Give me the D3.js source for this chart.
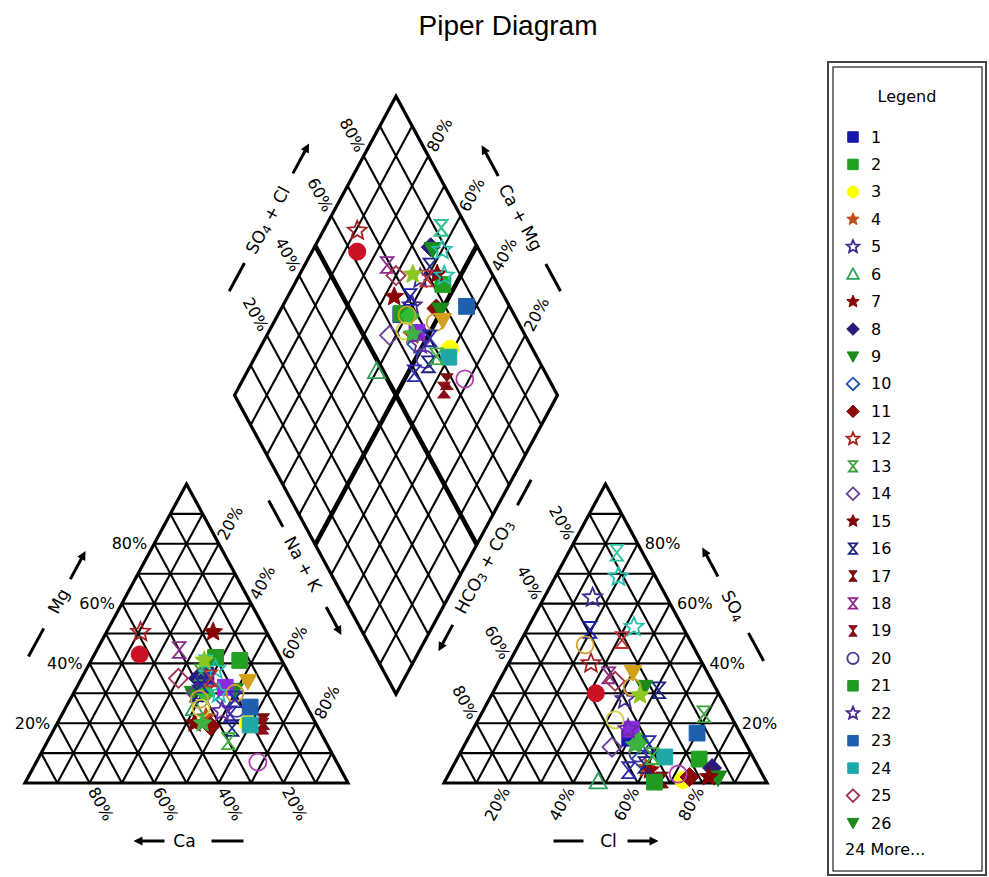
<!DOCTYPE html>
<html>
<head>
<meta charset="utf-8">
<script src="https://cdn.jsdelivr.net/npm/d3@7"></script>
<style>
  html, body { margin: 0; padding: 0; background: #fff; }
  svg { display: block; }
  text { font-family: "DejaVu Sans", sans-serif; fill: #000; }
</style>
</head>
<body>
<svg id="chart" width="989" height="877"></svg>
<script>
// ---- sample data (milliequivalent percentages) ----
const sampleIds = [1,2,3,4,5,6,7,8,9,10,11,12,13,14,15,16,17,18,19,20,21,22,23,24,25,26,
                   27,28,29,30,31,32,33,34,35,36,37,38,39,40,41,42,43,44,45,46];
const caPct  = [26,13,21,33,32,35,16.5,29,33,24,33,39,27,32,37.5,31,16,30,17,22,20,28,17.6,20.6,35,19.5,
                43,14,22,29,24,22,25,29,32,20,33,24.4,25,24,35,25,26.7,27,21,30];
const mgPct  = [36,41,20,22,30,25,50.5,35,30,28,19,50.5,37,30,20,30,20.5,44.5,19,25,42,32,25.4,19.4,35,31,
                43,34,32,30,40,38,30,33,28,30,25,7,35,41,20,23,18.4,24,28,14];
const clPct  = [50,75,73.5,60,15,47.5,61.6,80.5,84,57,75,25.5,69,46,81,51,67,33,65,55,65,42,70,64,36,46,
                32,40,49,53.5,15,19.5,32.7,19.6,20.6,42.2,42.4,71,31.2,46,52.7,55,59.2,48,57,60];
const so4Pct = [15,8,1,5,62,0.5,4.3,5,1.7,8,2,40,23,12,2,31,1,36,0.7,10,0.3,28,16.7,8.7,34,32,
                30,37,18,14,77,69,52.2,51.2,46.2,32.1,21.1,3,47.8,29.4,12.7,4.3,6,18,13,9];

const tickValues = [20, 40, 60, 80];
const legendCount = 26;
const moreLabel = "24 More...";

// ---- marker styles, one per sample ----
const markerShape = ["square","square","circle","star","star","triangle","star","diamond","triangleDown","diamond",
  "diamond","star","hourglass","diamond","star","hourglass","hourglass","hourglass","hourglass","circle",
  "square","star","square","square","diamond","triangleDown",
  "circle","triangleDown","square","diamond","hourglass","star","star","hourglass","circle","circle",
  "circle","circle","hourglass","star","star","hourglass","hourglass","star","hourglass","hourglass"];
const markerColor = ["#1818b0","#22a022","#ffff00","#c0501a","#3b2a8f","#2e9e5a","#8b0000","#2a1a7a","#1a8a1a","#2050b0",
  "#8b0a0a","#a52020","#3aa03a","#6a3d9a","#800000","#1a237e","#7a0f0f","#8b2a8b","#8b0a1a","#4a3a9a",
  "#229a22","#4a2a8a","#1f5fb0","#20a8a8","#a03050","#1a8a1a",
  "#cc1025","#d4a017","#8a2be2","#33bb33","#2ec4a0","#22c0b0","#22c0b0","#2020b0","#d0a030","#d0a030",
  "#d0d040","#b040b0","#c03030","#8cc820","#40b040","#2a2ab0","#1a237e","#6a2aa0","#2a2ab0","#40b040"];
const markerFilled = [1,1,1,1,0,0,1,1,1,0, 1,0,0,0,1,0,1,0,1,0, 1,0,1,1,0,1,
  1,1,1,1,0,0,0,0,0,0, 0,0,0,1,1,0,0,0,0,0];

// ---- layout ----
const svg = d3.select("#chart");
const W = 323, H = 299, base = 783;
const leftX0 = 25, rightX0 = 444;
const gap = rightX0 - (leftX0 + W);

const xL = d3.scaleLinear().domain([0, 1]).range([leftX0, leftX0 + W]);
const xR = d3.scaleLinear().domain([0, 1]).range([rightX0, rightX0 + W]);
const yT = d3.scaleLinear().domain([0, 1]).range([base, base - H]);
const Bx = leftX0 + W + gap / 2;
const By = base - H * (gap / 2) / (W / 2);
const xD = d3.scaleLinear().domain([-1, 1]).range([Bx - W / 2, Bx + W / 2]);
const yD = d3.scaleLinear().domain([0, 2]).range([By, By - 2 * H]);

// cation triangle: Ca bottom-left, Na+K bottom-right, Mg top
const ptL = (na, mg) => [xL(na + mg / 2), yT(mg)];
// anion triangle: HCO3 bottom-left, Cl bottom-right, SO4 top
const ptR = (cl, so4) => [xR(cl + so4 / 2), yT(so4)];
// diamond: c = Ca+Mg, s = SO4+Cl
const ptD = (c, s) => [xD(s - c), yD(c + s)];

const angRad = Math.atan2(H, W / 2);
const ang = angRad * 180 / Math.PI;
const cs = Math.cos(angRad), sn = Math.sin(angRad);
const uUR = [cs, -sn], uDR = [cs, sn], uUL = [-cs, -sn], uDL = [-cs, sn];

const line = d3.line();
const gGrid = svg.append("g").attr("fill", "none").attr("stroke", "#000").attr("stroke-linecap", "butt");
function seg(a, b, w) {
  gGrid.append("path").attr("d", line([a, b])).attr("stroke-width", w);
}
function poly(pts, w) {
  gGrid.append("path").attr("d", line(pts) + "Z").attr("stroke-width", w).attr("stroke-linejoin", "miter");
}

const steps = d3.range(1, 10).map(i => i / 10);
const gridW = 2.1, edgeW = 3.2, heavyW = 4.6;

// cation triangle grid
steps.forEach(v => {
  seg(ptL(0, v), ptL(1 - v, v), gridW);       // Mg
  seg(ptL(v, 0), ptL(v, 1 - v), gridW);       // Na+K
  seg(ptL(1 - v, 0), ptL(0, 1 - v), gridW);   // Ca
});
poly([ptL(0, 0), ptL(1, 0), ptL(0, 1)], edgeW);

// anion triangle grid
steps.forEach(v => {
  seg(ptR(0, v), ptR(1 - v, v), gridW);       // SO4
  seg(ptR(v, 0), ptR(v, 1 - v), gridW);       // Cl
  seg(ptR(1 - v, 0), ptR(0, 1 - v), gridW);   // HCO3
});
poly([ptR(0, 0), ptR(1, 0), ptR(0, 1)], edgeW);

// diamond grid
steps.forEach(v => {
  const w = v === 0.5 ? heavyW : gridW;
  seg(ptD(v, 0), ptD(v, 1), w);
  seg(ptD(0, v), ptD(1, v), w);
});
poly([ptD(0, 0), ptD(1, 0), ptD(1, 1), ptD(0, 1)], edgeW);

// ---- percentage tick labels ----
const gTicks = svg.append("g").style("font-size", "16px");
function tick(p, u, off, rot, anchor, txt) {
  const x = p[0] + u[0] * off, y = p[1] + u[1] * off;
  gTicks.append("text")
    .attr("transform", `translate(${x},${y}) rotate(${rot})`)
    .attr("text-anchor", anchor)
    .attr("dominant-baseline", "central")
    .text(txt);
}
tickValues.forEach(t => {
  const v = t / 100, s = t + "%";
  tick(ptL(0, v), [-1, 0], 7, 0, "end", s);           // Mg
  tick(ptL(v, 1 - v), uUR, 6, -ang, "start", s);      // Na+K
  tick(ptL(1 - v, 0), uDR, 6, ang, "start", s);       // Ca
  tick(ptR(1 - v, v), [1, 0], 7, 0, "start", s);      // SO4
  tick(ptR(v, 0), uDL, 6, -ang, "end", s);            // Cl
  tick(ptR(0, 1 - v), uUL, 6, ang, "end", s);         // HCO3+CO3
  tick(ptD(1, v), uUL, 6, ang, "end", s);             // SO4+Cl
  tick(ptD(v, 1), uUR, 6, -ang, "start", s);          // Ca+Mg
});

// ---- axis titles with dash and arrow ----
const gAxis = svg.append("g").style("font-size", "17px");
function axisTitle(mid, e, nrm, off, textAt, rot, parts, dash, arrow) {
  const at = a => [mid[0] + e[0] * a + nrm[0] * off, mid[1] + e[1] * a + nrm[1] * off];
  const p = at(textAt);
  const t = gAxis.append("text")
    .attr("transform", `translate(${p[0]},${p[1]}) rotate(${rot})`)
    .attr("text-anchor", "middle")
    .attr("dominant-baseline", "central");
  let prevSub = false;
  parts.forEach(([txt, sub]) => {
    const ts = t.append("tspan").text(txt);
    if (sub) ts.style("font-size", "12px").attr("dy", 4);
    else if (prevSub) ts.attr("dy", -4);
    prevSub = !!sub;
  });
  gAxis.append("path").attr("d", line([at(dash[0]), at(dash[1])]))
    .attr("stroke", "#000").attr("stroke-width", 3).attr("fill", "none");
  const head = 9, half = 4.5;
  const tip = at(arrow[1]), back = at(arrow[1] - head);
  gAxis.append("path").attr("d", line([at(arrow[0]), at(arrow[1] - head + 1)]))
    .attr("stroke", "#000").attr("stroke-width", 3).attr("fill", "none");
  const px = -e[1], py = e[0];
  gAxis.append("path")
    .attr("d", line([tip, [back[0] + px * half, back[1] + py * half], [back[0] - px * half, back[1] - py * half]]) + "Z")
    .attr("fill", "#000");
}
axisTitle(ptL(0, 0.5), uUR, [-sn, -cs], 57, 6, -ang, [["Mg"]], [-57, -25], [31, 63]);
axisTitle(ptL(0.5, 0), [-1, 0], [0, 1], 58, 2, 0, [["Ca"]], [-57, -25], [22, 53]);
axisTitle(ptD(0.5, 0), uDR, [-sn, cs], 20, 11, ang, [["Na + K"]], [-61, -31], [60, 92]);
axisTitle(ptD(0, 0.5), uDL, [sn, cs], 17, 16, -ang,
  [["HCO"], ["3", true], [" + CO"], ["3", true]], [-83, -54], [82, 112]);
axisTitle(ptD(1, 0.5), uUR, [-sn, -cs], 54, 0, -ang, [["SO"], ["4", true], [" + Cl"]], [-81, -49], [53, 87]);
axisTitle(ptD(0.5, 1), uUL, [sn, -cs], 52, 4, ang, [["Ca + Mg"]], [-80, -49], [51, 86]);
axisTitle(ptR(0.5, 0.5), uUL, [sn, -cs], 55, 2, ang, [["SO"], ["4", true]], [-61, -29], [35, 68]);
axisTitle(ptR(0.5, 0), [1, 0], [0, 1], 58, 3, 0, [["Cl"]], [-52, -22], [22, 53]);

// ---- marker symbol types ----
const symbolTypes = {
  square: { draw(ctx, size) { const r = Math.sqrt(size) / 2; ctx.rect(-r, -r, 2 * r, 2 * r); } },
  circle: { draw(ctx, size) { const r = Math.sqrt(size) / 2 * 1.08; ctx.moveTo(r, 0); ctx.arc(0, 0, r, 0, 2 * Math.PI); } },
  diamond: { draw(ctx, size) { const r = Math.sqrt(size) / 2 * 1.2;
    ctx.moveTo(0, -r); ctx.lineTo(r, 0); ctx.lineTo(0, r); ctx.lineTo(-r, 0); ctx.closePath(); } },
  triangle: { draw(ctx, size) { const r = Math.sqrt(size) / 2 * 1.1;
    ctx.moveTo(0, -r); ctx.lineTo(r, r * 0.8); ctx.lineTo(-r, r * 0.8); ctx.closePath(); } },
  triangleDown: { draw(ctx, size) { const r = Math.sqrt(size) / 2 * 1.1;
    ctx.moveTo(-r, -r * 0.8); ctx.lineTo(r, -r * 0.8); ctx.lineTo(0, r); ctx.closePath(); } },
  star: { draw(ctx, size) { const R = Math.sqrt(size) / 2 * 1.25, ri = R * 0.45;
    for (let i = 0; i < 10; i++) {
      const a = -Math.PI / 2 + i * Math.PI / 5, rr = i % 2 ? ri : R;
      const x = Math.cos(a) * rr, y = Math.sin(a) * rr;
      i ? ctx.lineTo(x, y) : ctx.moveTo(x, y);
    }
    ctx.closePath(); } },
  hourglass: { draw(ctx, size) { const r = Math.sqrt(size) / 2;
    ctx.moveTo(-r * 0.8, -r); ctx.lineTo(r * 0.8, -r); ctx.lineTo(0, 0);
    ctx.lineTo(r * 0.8, r); ctx.lineTo(-r * 0.8, r); ctx.lineTo(0, 0); ctx.closePath(); } }
};
function styleMarker(sel, i) {
  const filled = markerFilled[i] === 1;
  sel.attr("fill", filled ? markerColor[i] : "none")
     .attr("stroke", markerColor[i])
     .attr("stroke-width", filled ? 1 : 1.8)
     .attr("stroke-linejoin", "miter");
}
const markerSize = 250, legendSize = 110;

// ---- samples plotted in all three fields ----
const samples = sampleIds.map((id, i) => {
  const ca = caPct[i] / 100, mg = mgPct[i] / 100, cl = clPct[i] / 100, so4 = so4Pct[i] / 100;
  const na = 1 - ca - mg;
  return { i, id, left: ptL(na, mg), right: ptR(cl, so4), dia: ptD(ca + mg, cl + so4) };
});
const gPts = svg.append("g");
["left", "right", "dia"].forEach(field => {
  samples.forEach(d => {
    const sym = d3.symbol().type(symbolTypes[markerShape[d.i]]).size(markerSize);
    gPts.append("path")
      .attr("d", sym())
      .attr("transform", `translate(${d[field][0]},${d[field][1]})`)
      .call(styleMarker, d.i);
  });
});

// ---- title ----
svg.append("text").attr("x", 508).attr("y", 35).attr("text-anchor", "middle")
  .style("font-family", "'Liberation Sans', Arial, sans-serif").style("font-size", "28px")
  .text("Piper Diagram");

// ---- legend ----
const lg = svg.append("g");
lg.append("rect").attr("x", 828).attr("y", 62).attr("width", 158).attr("height", 813)
  .attr("fill", "#fff").attr("stroke", "#444").attr("stroke-width", 2);
lg.append("rect").attr("x", 833).attr("y", 67).attr("width", 149).attr("height", 804)
  .attr("fill", "none").attr("stroke", "#222").attr("stroke-width", 1.2);
lg.append("text").attr("x", 907).attr("y", 96).attr("text-anchor", "middle")
  .attr("dominant-baseline", "central").style("font-size", "16px").text("Legend");
const rowY = d3.scaleLinear().domain([0, legendCount - 1]).range([137, 823]);
sampleIds.slice(0, legendCount).forEach((id, i) => {
  const y = rowY(i);
  const sym = d3.symbol().type(symbolTypes[markerShape[i]]).size(legendSize);
  lg.append("path").attr("d", sym()).attr("transform", `translate(853,${y})`).call(styleMarker, i);
  lg.append("text").attr("x", 871).attr("y", y).attr("dominant-baseline", "central")
    .style("font-size", "16px").text(id);
});
lg.append("text").attr("x", 845).attr("y", 849).attr("dominant-baseline", "central")
  .style("font-size", "16px").text(moreLabel);
</script>
</body>
</html>
